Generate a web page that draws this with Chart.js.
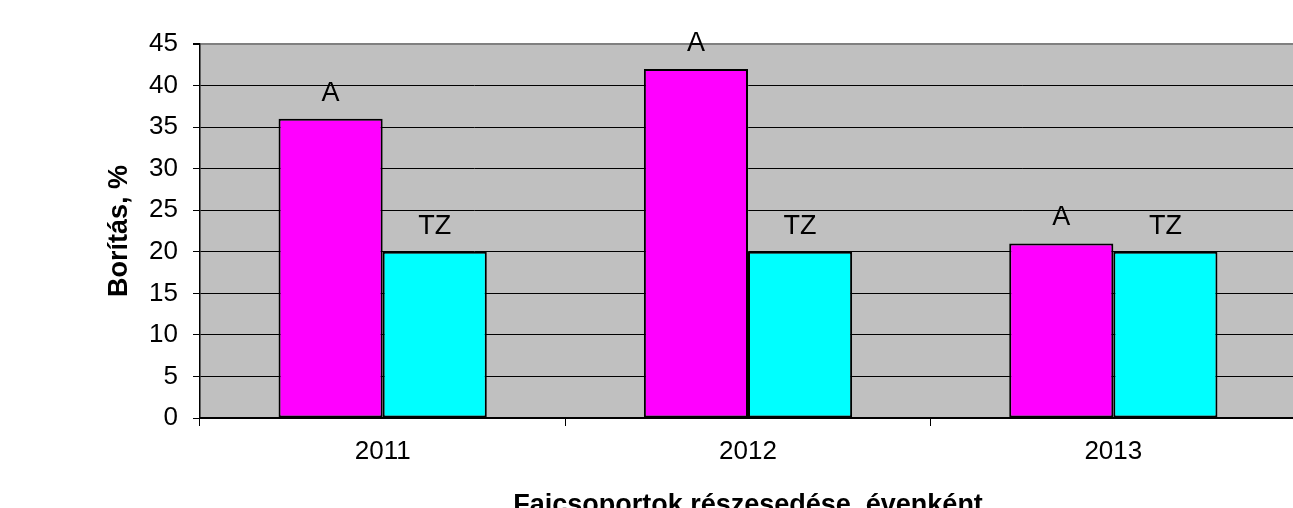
<!DOCTYPE html>
<html>
<head>
<meta charset="utf-8">
<script src="https://cdn.jsdelivr.net/npm/chart.js@4"></script>
<style>
  html, body { margin: 0; padding: 0; background: #fff; overflow: hidden; }
  #wrap { width: 1296px; height: 522px; }
</style>
</head>
<body>
<div id="wrap"><canvas id="c"></canvas></div>
<script>
// data
const years = ['2011', '2012', '2013'];
const seriesNames = ['A', 'TZ'];
const valuesA = [36, 42, 21];
const valuesTZ = [20, 20, 20];
const yTicks = [0, 5, 10, 15, 20, 25, 30, 35, 40, 45];

const FONT = '"Liberation Sans", Arial, sans-serif';

// grey plot background
const plotBg = {
  id: 'plotBg',
  beforeDraw(chart) {
    const { ctx, chartArea: a } = chart;
    ctx.save();
    ctx.fillStyle = '#C0C0C0';
    ctx.fillRect(a.left, a.top, a.right - a.left, a.bottom - a.top);
    ctx.restore();
  }
};

// series name above each bar
const barNames = {
  id: 'barNames',
  afterDatasetsDraw(chart) {
    const ctx = chart.ctx;
    ctx.save();
    ctx.font = '27px ' + FONT;
    ctx.fillStyle = '#000';
    ctx.textAlign = 'center';
    ctx.textBaseline = 'alphabetic';
    chart.data.datasets.forEach((ds, i) => {
      chart.getDatasetMeta(i).data.forEach(bar => {
        ctx.fillText(ds.label, bar.x, bar.y - 18);
      });
    });
    ctx.restore();
  }
};

new Chart(document.getElementById('c'), {
  type: 'bar',
  data: {
    labels: years,
    datasets: [
      {
        label: seriesNames[0],
        data: valuesA,
        backgroundColor: '#FF00FF',
        borderColor: '#000',
        borderWidth: 2,
        borderSkipped: false
      },
      {
        label: seriesNames[1],
        data: valuesTZ,
        backgroundColor: '#00FFFF',
        borderColor: '#000',
        borderWidth: 2,
        borderSkipped: false
      }
    ]
  },
  options: {
    responsive: true,
    maintainAspectRatio: false,
    animation: false,
    layout: { padding: { top: 44, left: 0, right: 0, bottom: 0 } },
    categoryPercentage: 0.57,
    barPercentage: 1.0,
    plugins: {
      legend: { display: false },
      tooltip: { enabled: false }
    },
    scales: {
      x: {
        grid: {
          offset: true,
          drawOnChartArea: false,
          drawTicks: true,
          tickLength: 8,
          color: '#000'
        },
        border: { display: true, color: '#000', width: 2 },
        ticks: { color: '#000', font: { family: FONT, size: 26 }, padding: 10 },
        title: {
          display: true,
          text: 'Fajcsoportok részesedése, évenként',
          color: '#000',
          font: { family: FONT, size: 27, weight: 'bold' },
          padding: { top: 0, bottom: 0 }
        },
        afterFit(scale) { scale.height = 104; }
      },
      y: {
        min: 0,
        max: 45,
        afterBuildTicks(scale) { scale.ticks = yTicks.map(v => ({ value: v })); },
        grid: {
          color: c => (c.tick && c.tick.value === 45 ? '#808080' : '#000'),
          tickColor: '#000',
          lineWidth: c => (c.tick && c.tick.value === 45 ? 2 : 1),
          tickLength: 7
        },
        border: { display: true, color: '#000', width: 1.5 },
        ticks: { color: '#000', font: { family: FONT, size: 26 }, padding: 15 },
        title: {
          display: true,
          text: 'Borítás, %',
          color: '#000',
          font: { family: FONT, size: 27, weight: 'bold' },
          padding: { top: 103, bottom: 0 }
        },
        afterFit(scale) { scale.width = 200; }
      }
    }
  },
  plugins: [plotBg, barNames]
});
</script>
</body>
</html>
